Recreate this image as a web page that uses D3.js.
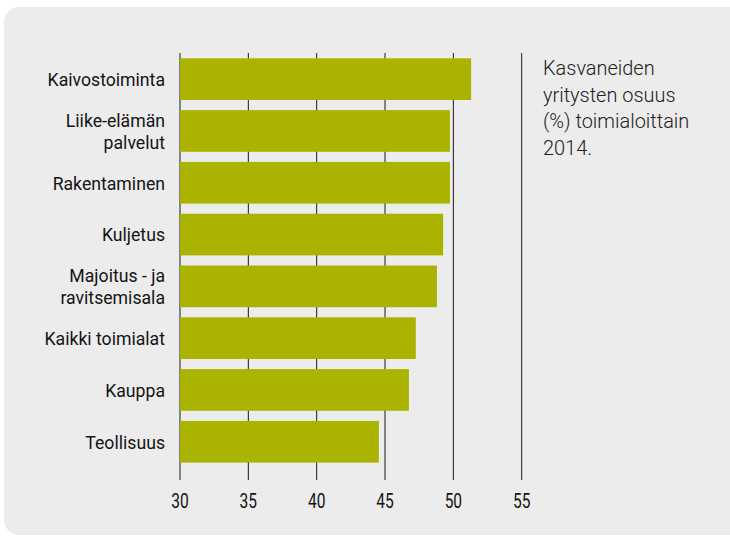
<!DOCTYPE html>
<html>
<head>
<meta charset="utf-8">
<script src="https://cdn.jsdelivr.net/npm/d3@7"></script>
<style>
  html, body { margin: 0; padding: 0; background: #ffffff; }
  svg { display: block; }
</style>
</head>
<body>
<svg id="chart" width="730" height="544"></svg>
<script>
// ---- data ----
const categories = [
  "Kaivostoiminta",
  "Liike-elämän\npalvelut",
  "Rakentaminen",
  "Kuljetus",
  "Majoitus - ja\nravitsemisala",
  "Kaikki toimialat",
  "Kauppa",
  "Teollisuus"
];
const values = [51.3, 49.75, 49.75, 49.25, 48.8, 47.25, 46.75, 44.55];
const tickValues = [30, 35, 40, 45, 50, 55];
const titleLines = ["Kasvaneiden", "yritysten osuus", "(%) toimialoittain", "2014."];

// ---- drawing ----
const svg = d3.select("#chart");

svg.append("rect")
  .attr("x", 4).attr("y", 7)
  .attr("width", 760).attr("height", 528)
  .attr("rx", 15).attr("ry", 15)
  .attr("fill", "#ececec");

const x = d3.scaleLinear().domain([30, 55]).range([180, 521.7]);
const y = d3.scaleBand()
  .domain(categories)
  .range([53.25, 467.65])
  .paddingInner(0.195)
  .paddingOuter(0.0975);

// grid lines
svg.append("g").selectAll("line")
  .data(tickValues)
  .join("line")
  .attr("x1", d => x(d)).attr("x2", d => x(d))
  .attr("y1", 53).attr("y2", 480)
  .attr("stroke", "#1a1a1a")
  .attr("stroke-width", 1);

// bars
svg.append("g").selectAll("rect")
  .data(values)
  .join("rect")
  .attr("x", x(30))
  .attr("y", (d, i) => y(categories[i]))
  .attr("width", d => x(d) - x(30))
  .attr("height", y.bandwidth())
  .attr("fill", "#aab400");

// category labels
const labelG = svg.append("g")
  .attr("font-family", "Roboto, 'Liberation Sans', sans-serif")
  .attr("font-size", 19)
  .attr("fill", "#141414");

categories.forEach(c => {
  const lines = c.split("\n");
  const cy = y(c) + y.bandwidth() / 2;
  const lh = 22;
  const capH = 13.5;
  const firstBase = cy + capH / 2 - (lines.length - 1) * lh / 2;
  lines.forEach((ln, j) => {
    labelG.append("text")
      .attr("transform", `translate(165,${firstBase + j * lh}) scale(0.93,1)`)
      .attr("text-anchor", "end")
      .text(ln);
  });
});

// tick labels
svg.append("g")
  .attr("font-family", "Roboto, 'Liberation Sans', sans-serif")
  .attr("font-size", 21)
  .attr("fill", "#141414")
  .selectAll("text")
  .data(tickValues)
  .join("text")
  .attr("transform", d => `translate(${x(d)},508) scale(0.74,1)`)
  .attr("text-anchor", "middle")
  .text(d => d);

// title
svg.append("g")
  .attr("font-family", "Roboto, 'Liberation Sans', sans-serif")
  .attr("font-size", 21)
  .attr("font-weight", 300)
  .attr("fill", "#222")
  .selectAll("text")
  .data(titleLines)
  .join("text")
  .attr("transform", (d, i) => `translate(543,${75 + i * 26.7}) scale(0.95,1)`)
  .text(d => d);
</script>
</body>
</html>
